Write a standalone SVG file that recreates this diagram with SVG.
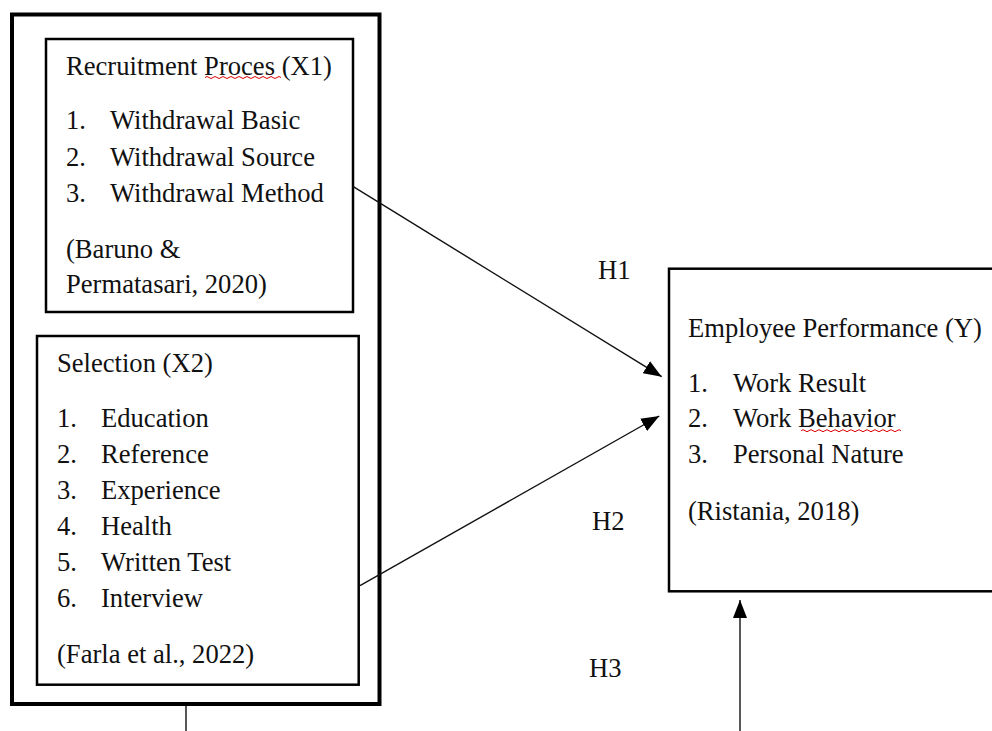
<svg xmlns="http://www.w3.org/2000/svg" width="992" height="731" viewBox="0 0 992 731">
<style>
text{font-family:"Liberation Serif","Times New Roman",serif;font-size:26.6px;fill:#111}
.box{fill:#fff;stroke:#000;stroke-width:2.5}
.outer{fill:none;stroke:#000;stroke-width:4}
.con{stroke:#111;stroke-width:1.4;fill:none}
.sq{stroke:#d00;stroke-width:1;fill:none}
</style>
<defs>
<marker id="ah" markerUnits="userSpaceOnUse" markerWidth="20" markerHeight="16" viewBox="0 0 20 16" refX="18" refY="8" orient="auto">
<path d="M0,1 L18,8 L0,15 Z" fill="#000"/>
</marker>
</defs>
<rect width="992" height="731" fill="#fff"/>
<g id="outer-group">
<rect class="outer" x="12" y="14.5" width="367.5" height="689.5"/>
</g>
<g id="x1">
<rect class="box" x="46" y="39" width="307" height="273"/>
<text x="66" y="75">Recruitment Proces (X1)</text>
<path class="sq" d="M205,77.5 q2,-2 4,0 t4,0 t4,0 t4,0 t4,0 t4,0 t4,0 t4,0 t4,0 t4,0 t4,0 t4,0 t4,0 t4,0 t4,0 t4,0 t4,0 t4,0 t4,0"/>
<text x="66" y="129">1.</text><text x="110" y="129">Withdrawal Basic</text>
<text x="66" y="166">2.</text><text x="110" y="166">Withdrawal Source</text>
<text x="66" y="202">3.</text><text x="110" y="202">Withdrawal Method</text>
<text x="66" y="258">(Baruno &amp;</text>
<text x="66" y="293">Permatasari, 2020)</text>
</g>
<g id="x2">
<rect class="box" x="37" y="336" width="321.7" height="348.7"/>
<text x="57" y="372">Selection (X2)</text>
<text x="57" y="427">1.</text><text x="101" y="427">Education</text>
<text x="57" y="463">2.</text><text x="101" y="463">Reference</text>
<text x="57" y="499">3.</text><text x="101" y="499">Experience</text>
<text x="57" y="535">4.</text><text x="101" y="535">Health</text>
<text x="57" y="571">5.</text><text x="101" y="571">Written Test</text>
<text x="57" y="607">6.</text><text x="101" y="607">Interview</text>
<text x="57" y="663">(Farla et al., 2022)</text>
</g>
<g id="y">
<rect class="box" x="669" y="268.7" width="340" height="322.6"/>
<text x="688" y="337">Employee Performance (Y)</text>
<text x="688" y="392">1.</text><text x="733" y="392">Work Result</text>
<text x="688" y="427">2.</text><text x="733" y="427">Work Behavior</text>
<path class="sq" d="M801,430.7 q2,-2 4,0 t4,0 t4,0 t4,0 t4,0 t4,0 t4,0 t4,0 t4,0 t4,0 t4,0 t4,0 t4,0 t4,0 t4,0 t4,0 t4,0 t4,0 t4,0 t4,0 t4,0 t4,0 t4,0 t4,0 t4,0"/>
<text x="688" y="463">3.</text><text x="733" y="463">Personal Nature</text>
<text x="688" y="520">(Ristania, 2018)</text>
</g>
<g id="connectors">
<line class="con" x1="353.3" y1="186.7" x2="661.7" y2="376.7" marker-end="url(#ah)"/>
<line class="con" x1="360" y1="585.7" x2="659.3" y2="416" marker-end="url(#ah)"/>
<line class="con" x1="186" y1="706" x2="186" y2="731"/>
<line class="con" x1="740" y1="731" x2="740" y2="600" marker-end="url(#ah)"/>
</g>
<g id="labels">
<text x="598" y="279">H1</text>
<text x="592" y="530">H2</text>
<text x="589" y="677">H3</text>
</g>
</svg>
